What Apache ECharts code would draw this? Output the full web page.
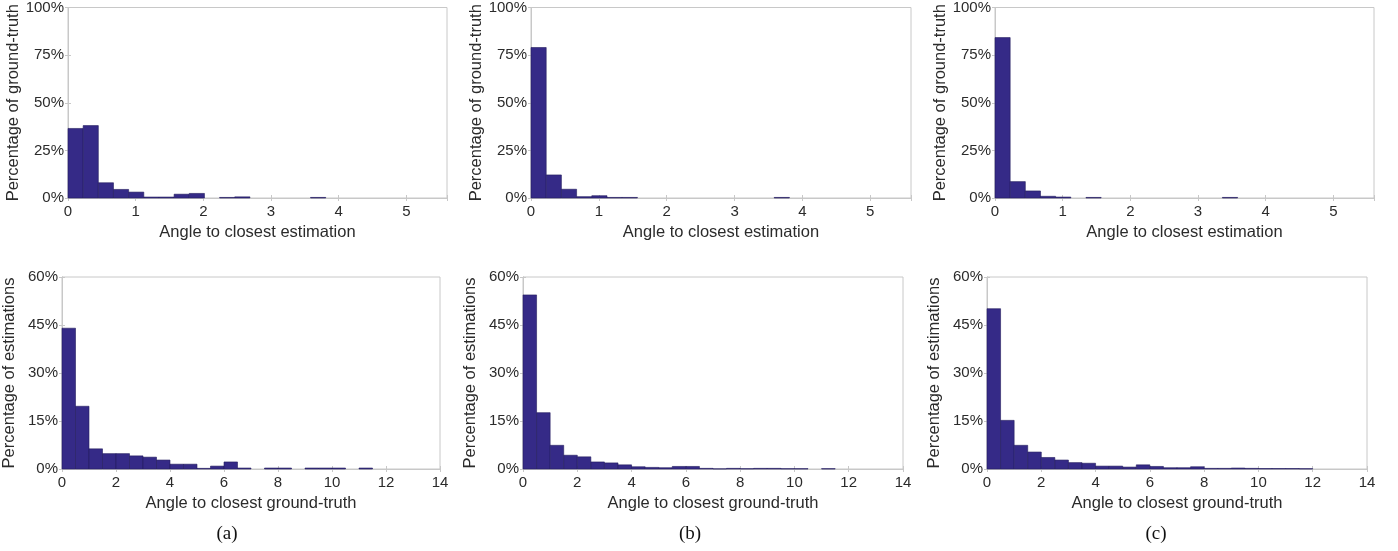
<!DOCTYPE html>
<html>
<head>
<meta charset="utf-8">
<script src="https://cdn.jsdelivr.net/npm/echarts@6/dist/echarts.min.js"></script>
<style>
html,body{margin:0;padding:0;background:#fff;}
#chart{width:1398px;height:551px;}
</style>
</head>
<body>
<div id="chart"></div>
<script>
// ---- data ----
// histogram bins (lower edges) for the top row (angle to closest estimation), width 0.224
const topBinStarts = [0, 0.224, 0.448, 0.672, 0.896, 1.12, 1.344, 1.568, 1.792, 2.016, 2.24, 2.464, 2.688, 2.912, 3.136, 3.36, 3.584, 3.808, 4.032, 4.256, 4.48, 4.704, 4.928, 5.152, 5.376];
const topBinWidth = 0.224;
// histogram bins (lower edges) for the bottom row (angle to closest ground-truth), width 0.5
const bottomBinStarts = [0, 0.5, 1, 1.5, 2, 2.5, 3, 3.5, 4, 4.5, 5, 5.5, 6, 6.5, 7, 7.5, 8, 8.5, 9, 9.5, 10, 10.5, 11, 11.5, 12, 12.5, 13, 13.5];
const bottomBinWidth = 0.5;

// percentages, top row (ground-truth)
const topA = [36.5, 38.0, 8.0, 4.5, 3.1, 0.5, 0.5, 2.0, 2.4, 0, 0.3, 0.6, 0, 0, 0, 0, 0.3, 0, 0, 0, 0, 0, 0, 0, 0];
const topB = [79.0, 12.1, 4.6, 0.7, 1.2, 0.3, 0.3, 0, 0, 0, 0, 0, 0, 0, 0, 0, 0.3, 0, 0, 0, 0, 0, 0, 0, 0];
const topC = [84.2, 8.6, 3.7, 0.9, 0.5, 0, 0.3, 0, 0, 0, 0, 0, 0, 0, 0, 0.3, 0, 0, 0, 0, 0, 0, 0, 0, 0];
// percentages, bottom row (estimations)
const botA = [44.0, 19.6, 6.3, 4.8, 4.8, 4.1, 3.7, 2.8, 1.5, 1.5, 0.2, 0.9, 2.2, 0.3, 0, 0.3, 0.3, 0, 0.3, 0.3, 0.3, 0, 0.3, 0, 0, 0, 0, 0];
const botB = [54.4, 17.6, 7.4, 4.3, 3.8, 2.2, 1.9, 1.3, 0.7, 0.5, 0.4, 0.8, 0.8, 0.2, 0.05, 0.2, 0.1, 0.2, 0.2, 0.1, 0.1, 0, 0.1, 0, 0, 0, 0, 0];
const botC = [50.1, 15.2, 7.4, 5.3, 3.6, 2.8, 2.0, 1.8, 0.9, 0.9, 0.6, 1.3, 0.8, 0.4, 0.4, 0.7, 0.2, 0.2, 0.3, 0.2, 0.15, 0.15, 0.15, 0.1, 0, 0, 0, 0];

const topXTicks = {min: 0, max: 5.6, interval: 1};
const bottomXTicks = {min: 0, max: 14, interval: 2};
const topYTicks = {min: 0, max: 100, interval: 25};
const bottomYTicks = {min: 0, max: 60, interval: 15};

const topXName = 'Angle to closest estimation';
const topYName = 'Percentage of ground-truth';
const bottomXName = 'Angle to closest ground-truth';
const bottomYName = 'Percentage of estimations';
const captions = ['(a)', '(b)', '(c)'];

// ---- layout / style ----
const FONT = '"Liberation Sans", Arial, Helvetica, sans-serif';
const BOX = '#c8c8c8';
const TXT = '#2b2b2b';
const BAR = '#352a87';

const panels = [
  {left: 68,  top: 7,   width: 379, height: 191, bins: topBinStarts, w: topBinWidth, vals: topA, xt: topXTicks, yt: topYTicks, xn: topXName, yn: topYName},
  {left: 531, top: 7,   width: 380, height: 191, bins: topBinStarts, w: topBinWidth, vals: topB, xt: topXTicks, yt: topYTicks, xn: topXName, yn: topYName},
  {left: 995, top: 7,   width: 379, height: 191, bins: topBinStarts, w: topBinWidth, vals: topC, xt: topXTicks, yt: topYTicks, xn: topXName, yn: topYName},
  {left: 60,  top: 277, width: 380, height: 192, bins: bottomBinStarts, w: bottomBinWidth, vals: botA, xt: bottomXTicks, yt: bottomYTicks, xn: bottomXName, yn: bottomYName},
  {left: 523, top: 277, width: 380, height: 192, bins: bottomBinStarts, w: bottomBinWidth, vals: botB, xt: bottomXTicks, yt: bottomYTicks, xn: bottomXName, yn: bottomYName},
  {left: 987, top: 277, width: 380, height: 192, bins: bottomBinStarts, w: bottomBinWidth, vals: botC, xt: bottomXTicks, yt: bottomYTicks, xn: bottomXName, yn: bottomYName}
];

const grid = [], xAxis = [], yAxis = [], series = [];
panels.forEach((p, i) => {
  grid.push({left: p.left, top: p.top, width: p.width, height: p.height, show: true, borderColor: BOX, borderWidth: 1, containLabel: false});
  const tick = {show: true, inside: true, length: 3, lineStyle: {color: BOX, width: 1}};
  // bottom x axis
  xAxis.push({
    type: 'value', gridIndex: i, position: 'bottom', min: p.xt.min, max: p.xt.max, interval: p.xt.interval,
    axisLine: {show: true, lineStyle: {color: BOX, width: 1}}, axisTick: tick, splitLine: {show: false},
    axisLabel: {color: TXT, fontFamily: FONT, fontSize: 15, margin: 6,
      formatter: v => (Math.abs(v - Math.round(v)) < 1e-6 ? String(Math.round(v)) : '')},
    name: p.xn, nameLocation: 'middle', nameGap: 26,
    nameTextStyle: {color: TXT, fontFamily: FONT, fontSize: 16.5, verticalAlign: 'top'}
  });
  // top mirrored x axis (ticks only)
  xAxis.push({
    type: 'value', gridIndex: i, position: 'top', min: p.xt.min, max: p.xt.max, interval: p.xt.interval,
    axisLine: {show: true, lineStyle: {color: BOX, width: 1}}, axisTick: tick, splitLine: {show: false},
    axisLabel: {show: false}
  });
  // left y axis
  yAxis.push({
    type: 'value', gridIndex: i, position: 'left', min: p.yt.min, max: p.yt.max, interval: p.yt.interval,
    axisLine: {show: true, lineStyle: {color: BOX, width: 1}}, axisTick: tick, splitLine: {show: false},
    axisLabel: {color: TXT, fontFamily: FONT, fontSize: 15, margin: 4, formatter: '{value}%'},
    name: p.yn, nameLocation: 'middle', nameGap: 44, nameRotate: 90,
    nameTextStyle: {color: TXT, fontFamily: FONT, fontSize: 16.5}
  });
  // right mirrored y axis (ticks only)
  yAxis.push({
    type: 'value', gridIndex: i, position: 'right', min: p.yt.min, max: p.yt.max, interval: p.yt.interval,
    axisLine: {show: true, lineStyle: {color: BOX, width: 1}}, axisTick: tick, splitLine: {show: false},
    axisLabel: {show: false}
  });
  const data = p.bins.map((b, k) => [b, b + p.w, p.vals[k]]);
  series.push({
    type: 'custom', xAxisIndex: 2 * i, yAxisIndex: 2 * i,
    encode: {x: [0, 1], y: 2},
    data: data,
    renderItem: function (params, api) {
      const v = api.value(2);
      if (!(v > 0)) return null;
      const p0 = api.coord([api.value(0), 0]);
      const p1 = api.coord([api.value(1), v]);
      return {
        type: 'rect',
        shape: {x: p0[0], y: p1[1], width: p1[0] - p0[0], height: p0[1] - p1[1]},
        style: {fill: BAR, stroke: '#241c5e', lineWidth: 0.6}
      };
    },
    silent: true, animation: false
  });
});

const capX = [227, 690, 1156];
const graphic = captions.map((c, i) => ({
  type: 'text', x: capX[i], y: 534,
  style: {text: c, font: '19px "Liberation Serif", "Times New Roman", serif', fill: '#111', textAlign: 'center', textVerticalAlign: 'middle'}
}));

const chart = echarts.init(document.getElementById('chart'), null, {renderer: 'canvas'});
chart.setOption({
  animation: false,
  backgroundColor: '#ffffff',
  grid: grid, xAxis: xAxis, yAxis: yAxis, series: series, graphic: graphic
});
</script>
</body>
</html>
